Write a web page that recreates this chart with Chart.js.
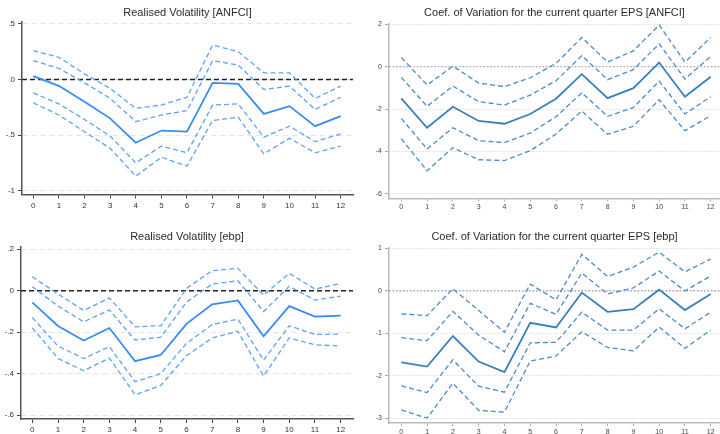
<!DOCTYPE html>
<html>
  <head>
    <title>Impulse responses</title>
    <script src="https://cdn.jsdelivr.net/npm/chart.js"></script>
    <style>
      body { margin: 0; background: #fff; width: 720px; height: 434px; overflow: hidden; position: relative; }
      .panel { position: absolute; width: 360px; height: 217px; }
    </style>
  </head>
  <body>
    <div class="panel" style="left:0;top:0"><canvas id="rvAnfci"></canvas></div>
    <div class="panel" style="left:360px;top:0"><canvas id="cvAnfci"></canvas></div>
    <div class="panel" style="left:0;top:217px"><canvas id="rvEbp"></canvas></div>
    <div class="panel" style="left:360px;top:217px"><canvas id="cvEbp"></canvas></div>

    <script>
      // horizon (quarters)
      const steps = [0, 1, 2, 3, 4, 5, 6, 7, 8, 9, 10, 11, 12];

      // Realised Volatility [ANFCI]
      const rvAnfciMid = [0.03, -0.057, -0.2, -0.35, -0.57, -0.46, -0.47, -0.03, -0.04, -0.31, -0.24, -0.42, -0.33];
      const rvAnfciUp2 = [0.26, 0.20, 0.05, -0.08, -0.26, -0.23, -0.16, 0.31, 0.25, 0.06, 0.06, -0.17, -0.06];
      const rvAnfciUp1 = [0.17, 0.10, -0.03, -0.17, -0.38, -0.32, -0.28, 0.17, 0.13, -0.09, -0.06, -0.27, -0.16];
      const rvAnfciLo1 = [-0.12, -0.22, -0.36, -0.51, -0.75, -0.60, -0.66, -0.23, -0.22, -0.52, -0.42, -0.56, -0.49];
      const rvAnfciLo2 = [-0.21, -0.32, -0.47, -0.62, -0.87, -0.70, -0.78, -0.37, -0.34, -0.67, -0.53, -0.66, -0.60];
      const rvAnfciTicks = [-1, -0.5, 0, 0.5];
      const rvAnfciTickLabels = ['-1', '-.5', '0', '.5'];

      // Coef. of Variation, current quarter EPS [ANFCI]
      const cvAnfciMid = [-1.49, -2.88, -1.89, -2.56, -2.69, -2.23, -1.51, -0.35, -1.48, -1.01, 0.20, -1.42, -0.47];
      const cvAnfciUp2 = [0.44, -0.86, 0.03, -0.77, -0.94, -0.52, 0.16, 1.38, 0.22, 0.75, 1.97, 0.22, 1.38];
      const cvAnfciUp1 = [-0.50, -1.87, -0.91, -1.65, -1.81, -1.34, -0.66, 0.52, -0.61, -0.14, 1.08, -0.58, 0.49];
      const cvAnfciLo1 = [-2.44, -3.88, -2.88, -3.49, -3.58, -3.13, -2.36, -1.23, -2.34, -1.93, -0.68, -2.23, -1.42];
      const cvAnfciLo2 = [-3.40, -4.91, -3.82, -4.39, -4.43, -3.96, -3.18, -2.09, -3.19, -2.81, -1.56, -3.02, -2.31];
      const cvAnfciTicks = [-6, -4, -2, 0, 2];
      const cvAnfciTickLabels = ['-6', '-4', '-2', '0', '2'];

      // Realised Volatility [ebp]
      const rvEbpMid = [-0.056, -0.17, -0.24, -0.18, -0.34, -0.31, -0.16, -0.066, -0.047, -0.22, -0.074, -0.125, -0.12];
      const rvEbpUp2 = [0.068, -0.016, -0.095, -0.035, -0.174, -0.169, 0.011, 0.097, 0.108, -0.021, 0.084, 0.008, 0.035];
      const rvEbpUp1 = [0.019, -0.074, -0.15, -0.093, -0.238, -0.224, -0.055, 0.032, 0.048, -0.10, 0.021, -0.045, -0.026];
      const rvEbpLo1 = [-0.13, -0.267, -0.327, -0.27, -0.439, -0.40, -0.254, -0.163, -0.137, -0.335, -0.169, -0.211, -0.209];
      const rvEbpLo2 = [-0.179, -0.327, -0.386, -0.325, -0.502, -0.457, -0.314, -0.228, -0.196, -0.412, -0.228, -0.261, -0.267];
      const rvEbpTicks = [-0.6, -0.4, -0.2, 0, 0.2];
      const rvEbpTickLabels = ['-.6', '-.4', '-.2', '0', '.2'];

      // Coef. of Variation, current quarter EPS [ebp]
      const cvEbpMid = [-1.68, -1.78, -1.06, -1.66, -1.91, -0.75, -0.86, -0.04, -0.49, -0.43, 0.03, -0.45, -0.07];
      const cvEbpUp2 = [-0.54, -0.58, 0.05, -0.46, -0.97, 0.16, -0.21, 0.86, 0.34, 0.56, 0.91, 0.45, 0.75];
      const cvEbpUp1 = [-1.10, -1.17, -0.48, -1.04, -1.43, -0.29, -0.55, 0.42, -0.07, 0.07, 0.47, 0.00, 0.35];
      const cvEbpLo1 = [-2.23, -2.39, -1.62, -2.24, -2.38, -1.22, -1.21, -0.50, -0.92, -0.92, -0.42, -0.89, -0.50];
      const cvEbpLo2 = [-2.80, -2.99, -2.17, -2.81, -2.85, -1.65, -1.53, -0.96, -1.33, -1.41, -0.85, -1.35, -0.92];
      const cvEbpTicks = [-3, -2, -1, 0, 1];
      const cvEbpTickLabels = ['-3', '-2', '-1', '0', '1'];

      const FONT = "'Liberation Sans', Arial, Helvetica, sans-serif";

      // two looks: the left panels (blue, dark axes) and right panels (steel blue, grey axes)
      const looks = {
        left: {
          mid: '#388cf0', band: '#5ea3f5', axis: '#555', tick: '#444', label: '#333', tickSize: 8,
          grid: '#e4e4e4', gridDash: [5, 4], zero: '#222', zeroDash: [5, 3], zeroWidth: 1.3
        },
        right: {
          mid: '#3a7fbd', band: '#4d8cc6', axis: '#bbb', tick: '#aaa', label: '#444', tickSize: 7,
          grid: '#cfcfcf', gridDash: [1, 2], zero: '#9a9a9a', zeroDash: [1.5, 2], zeroWidth: 1.2
        }
      };

      const pts = arr => steps.map((s, i) => ({ x: s, y: arr[i] }));

      // horizontal reference line at zero, plus title centred on the plot region
      const extras = {
        id: 'extras',
        beforeDatasetsDraw(chart, args, o) {
          const { ctx, chartArea: a, scales: { y } } = chart;
          const py = y.getPixelForValue(0);
          ctx.save();
          ctx.strokeStyle = o.zero;
          ctx.lineWidth = o.zeroWidth;
          ctx.setLineDash(o.zeroDash);
          ctx.beginPath();
          ctx.moveTo(a.left, py);
          ctx.lineTo(a.right, py);
          ctx.stroke();
          ctx.restore();
        },
        afterDraw(chart, args, o) {
          const { ctx, chartArea: a } = chart;
          ctx.save();
          ctx.fillStyle = '#2b2b2b';
          ctx.font = '11px ' + FONT;
          ctx.textAlign = 'center';
          ctx.textBaseline = 'middle';
          ctx.fillText(o.text, (a.left + a.right) / 2, o.titleY);
          ctx.restore();
        }
      };

      function drawPanel(id, title, look, series, yTicks, yLabels, g) {
        const lk = looks[look];
        const band = (data) => ({
          data: pts(data), borderColor: lk.band, borderWidth: 1.3, borderDash: [5, 3], pointRadius: 0, tension: 0
        });
        new Chart(document.getElementById(id), {
          type: 'line',
          data: {
            datasets: [
              band(series[1]), band(series[2]), band(series[3]), band(series[4]),
              { data: pts(series[0]), borderColor: lk.mid, borderWidth: 1.8, pointRadius: 0, tension: 0 }
            ]
          },
          options: {
            responsive: false,
            animation: false,
            layout: { padding: { top: g.padTop, right: g.padRight, left: 0, bottom: 0 } },
            plugins: {
              legend: { display: false },
              tooltip: { enabled: false },
              extras: Object.assign({ text: title, titleY: g.titleY }, lk)
            },
            scales: {
              x: {
                type: 'linear', min: g.xMin, max: g.xMax,
                afterBuildTicks: s => { s.ticks = steps.map(v => ({ value: v })); },
                afterFit: s => { s.height = g.xH; },
                grid: { drawOnChartArea: false, tickLength: g.xTick, tickColor: lk.tick, tickWidth: 1 },
                border: { color: lk.axis, width: 1.5 },
                ticks: { color: lk.label, font: { family: FONT, size: lk.tickSize }, padding: 2, maxRotation: 0 }
              },
              y: {
                type: 'linear', min: g.yMin, max: g.yMax,
                afterBuildTicks: s => { s.ticks = yTicks.map(v => ({ value: v })); },
                afterFit: s => { s.width = g.yW; },
                grid: { color: lk.grid, lineWidth: 1, tickLength: 4, tickColor: lk.tick, tickWidth: 1 },
                border: { color: lk.axis, width: 1.5, dash: lk.gridDash },
                ticks: {
                  color: lk.label, font: { family: FONT, size: lk.tickSize }, padding: 3,
                  callback: (v, i) => yLabels[i]
                }
              }
            }
          },
          plugins: [extras]
        });
      }

      function sizeCanvas(id) {
        const c = document.getElementById(id);
        c.width = 360; c.height = 217;
        c.style.width = '360px'; c.style.height = '217px';
      }
      ['rvAnfci', 'cvAnfci', 'rvEbp', 'cvEbp'].forEach(sizeCanvas);

      drawPanel('rvAnfci', 'Realised Volatility [ANFCI]', 'left',
        [rvAnfciMid, rvAnfciUp2, rvAnfciUp1, rvAnfciLo1, rvAnfciLo2], rvAnfciTicks, rvAnfciTickLabels,
        { padTop: 22, padRight: 7, yW: 22, xH: 22.5, xTick: 4, yMin: -1.036, yMax: 0.518, xMin: -0.44, xMax: 12.48, titleY: 13 });

      drawPanel('cvAnfci', 'Coef. of Variation for the current quarter EPS [ANFCI]', 'right',
        [cvAnfciMid, cvAnfciUp2, cvAnfciUp1, cvAnfciLo1, cvAnfciLo2], cvAnfciTicks, cvAnfciTickLabels,
        { padTop: 23.3, padRight: 0, yW: 29, xH: 18.7, xTick: 3, yMin: -6.21, yMax: 2.05, xMin: -0.477, xMax: 12.36, titleY: 13.3 });

      drawPanel('rvEbp', 'Realised Volatility [ebp]', 'left',
        [rvEbpMid, rvEbpUp2, rvEbpUp1, rvEbpLo1, rvEbpLo2], rvEbpTicks, rvEbpTickLabels,
        { padTop: 30, padRight: 7, yW: 21, xH: 15, xTick: 4, yMin: -0.619, yMax: 0.211, xMin: -0.44, xMax: 12.48, titleY: 20.3 });

      drawPanel('cvEbp', 'Coef. of Variation for the current quarter EPS [ebp]', 'right',
        [cvEbpMid, cvEbpUp2, cvEbpUp1, cvEbpLo1, cvEbpLo2], cvEbpTicks, cvEbpTickLabels,
        { padTop: 31, padRight: 0, yW: 29, xH: 11, xTick: 3, yMin: -3.106, yMax: 1.01, xMin: -0.477, xMax: 12.36, titleY: 20.3 });
    </script>
  </body>
</html>
